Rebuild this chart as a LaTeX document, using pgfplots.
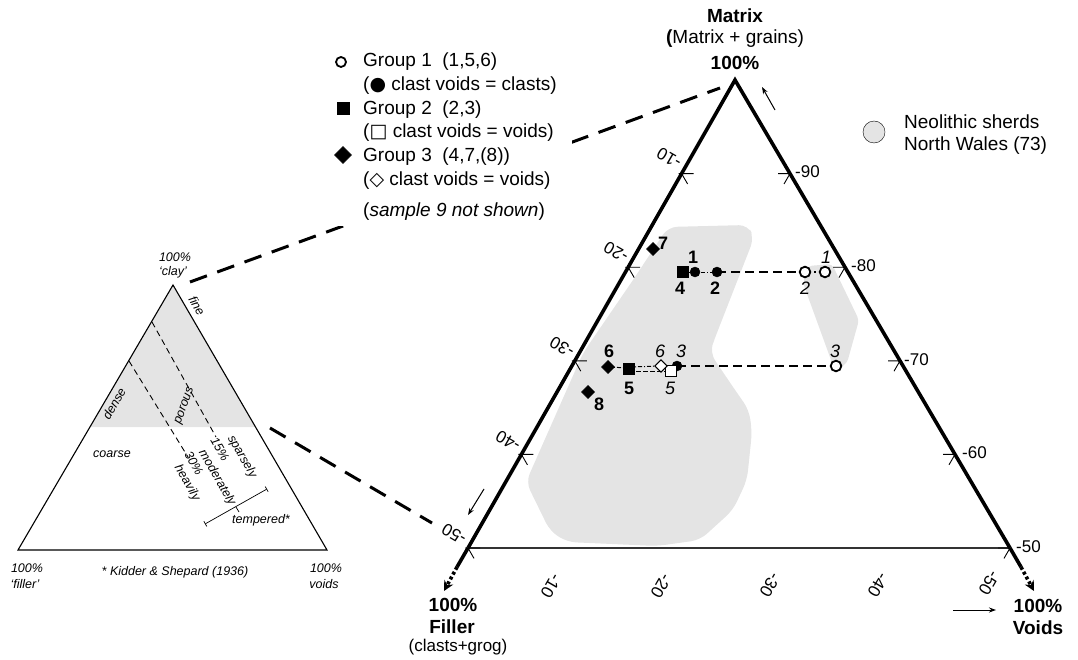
\documentclass[border=0pt]{standalone}
\usepackage{pgfplots}
\pgfplotsset{compat=1.18}
\usepackage{fontspec}
\setmainfont{Liberation Sans}
\newfontfamily\symfont{DejaVu Sans}
\usetikzlibrary{arrows.meta}
\definecolor{shade}{RGB}{228,228,228}
\newcommand\fA{\fontsize{19}{23}\selectfont}
\newcommand\fB{\fontsize{19}{23}\selectfont\bfseries}
\newcommand\fT{\fontsize{17}{20}\selectfont}
\newcommand\fS{\fontsize{12.5}{15}\selectfont\itshape}
\newcommand\fD{\fontsize{18}{20}\selectfont}

\begin{document}
\begin{tikzpicture}
\begin{axis}[name=ax, at={(0,0)}, anchor=south west,
  width=1078pt, height=660pt, scale only axis,
  xmin=0, xmax=1078, ymin=0, ymax=660, y dir=reverse,
  hide axis, clip=false]

% ---------- grey regions ----------
\addplot[fill=shade, draw=none, rounded corners=9pt] coordinates {
 (668,227) (748,225) (754,238) (713,343) (710,353) (733,387) (749,410)
 (752,432) (747,480) (733,510) (700,540) (657,546) (567,542) (550,531)
 (526,482) (583,353) (633,280)} -- cycle;
\addplot[fill=shade, draw=none, rounded corners=4pt] coordinates {
 (808,266) (832,264) (859,320) (847,363) (835,371) (803,283)} -- cycle;
% small triangle shading
\addplot[fill=shade, draw=none] coordinates {(173,285) (90,427) (256,427)} -- cycle;

% ---------- small triangle ----------
\addplot[black, line width=1.1pt] coordinates {(173,285) (18,550) (327,550)} -- cycle;
\addplot[black, line width=0.9pt, dash pattern=on 6pt off 4pt] coordinates {(152,322) (216,437)};
\addplot[black, line width=0.9pt, dash pattern=on 6pt off 4pt] coordinates {(129,361) (188,457)};
\addplot[black, line width=0.7pt, {Bar[width=6pt]}-{Bar[width=6pt]}] coordinates {(205,524) (267,489)};
\addplot[black, line width=0.7pt] coordinates {(236,507) (239,512)};

% ---------- dashed connectors ----------
\addplot[black, line width=3pt, dash pattern=on 18pt off 11pt] coordinates {(190,282) (720,88)};
\addplot[black, line width=3pt, dash pattern=on 18pt off 11pt] coordinates {(270,428) (432,523)};

% legend background
\addplot[fill=white, draw=none] coordinates {(328,44) (572,44) (572,226) (328,226)} -- cycle;

% ---------- big triangle ----------
\addplot[black!80, line width=1.3pt] coordinates {(468,548) (1010,548)};
\addplot[black, line width=3.6pt, line join=miter] coordinates {(468,548) (735,80) (1010,548)};
\addplot[black, line width=3.6pt] coordinates {(468,548) (457,567)};
\addplot[black, line width=3.6pt, dash pattern=on 3pt off 2.5pt, -{Stealth[length=10pt,width=10pt]}] coordinates {(457,567) (444,591)};
\addplot[black, line width=3.6pt] coordinates {(1010,548) (1021,567)};
\addplot[black, line width=3.6pt, dash pattern=on 3pt off 2.5pt, -{Stealth[length=10pt,width=10pt]}] coordinates {(1021,567) (1034,591)};

% ticks (right edge)
\addplot[black, line width=0.9pt, unbounded coords=jump] coordinates {
 (778,173.6) (790,173.6) (784,184) (nan,nan)
 (833,267.2) (845,267.2) (839,277.6) (nan,nan)
 (888,360.8) (900,360.8) (894,371.2) (nan,nan)
 (943,454.4) (955,454.4) (949,464.8) (nan,nan)
 (998,548) (1010,548) (1004,558.4)};
% ticks (left edge)
\addplot[black, line width=0.9pt, unbounded coords=jump] coordinates {
 (693.6,173.6) (678.6,173.6) (nan,nan) (681.6,173.6) (687.6,184) (nan,nan)
 (640.2,267.2) (625.2,267.2) (nan,nan) (628.2,267.2) (634.2,277.6) (nan,nan)
 (586.8,360.8) (571.8,360.8) (nan,nan) (574.8,360.8) (580.8,371.2) (nan,nan)
 (533.4,454.4) (518.4,454.4) (nan,nan) (521.4,454.4) (527.4,464.8) (nan,nan)
 (480,548) (465,548) (nan,nan) (468,548) (474,558.4)};

% small arrows
\addplot[black, line width=1pt, -{Stealth[length=7pt,width=5pt]}] coordinates {(775,110) (762,87)};
\addplot[black, line width=1pt, -{Stealth[length=7pt,width=5pt]}] coordinates {(484,489) (468,515)};
\addplot[black, line width=1pt, -{Stealth[length=7pt,width=5pt]}] coordinates {(953,610) (996,610)};

% ---------- connecting lines of the samples ----------
\addplot[black, line width=1pt, dash pattern=on 4pt off 2pt on 1pt off 2pt] coordinates {(683,272) (717,272)};
\addplot[black, line width=1.4pt, dash pattern=on 9pt off 5pt] coordinates {(717,272) (805,272)};
\addplot[black, line width=1.2pt, dash pattern=on 1.5pt off 3pt] coordinates {(805,272) (825,272)};
\addplot[black, line width=1pt, dash pattern=on 4pt off 2pt on 1pt off 2pt] coordinates {(608,367) (629,368)};
\addplot[black, line width=1pt, dash pattern=on 4pt off 2pt on 1pt off 2pt] coordinates {(629,367) (661,366)};
\addplot[black, line width=1pt, dash pattern=on 5pt off 2pt] coordinates {(629,371) (671,371)};
\addplot[black, line width=1pt] coordinates {(661,366) (677,366)};
\addplot[black, line width=1.4pt, dash pattern=on 9pt off 5pt] coordinates {(677,366) (836,366)};

% ---------- samples ----------
% filled circles (clast voids = clasts)
\addplot[only marks, mark=*, mark size=5pt, mark options={fill=black, draw=black}] coordinates {(695,272) (717,272) (677,366)};
% open circles (Group 1)
\addplot[only marks, mark=*, mark size=5.3pt, mark options={fill=white, draw=black, line width=1.8pt}] coordinates {(805,272) (825,272) (836,366)};
% filled squares (Group 2)
\addplot[only marks, mark=square*, mark size=5.5pt, mark options={fill=black, draw=black}] coordinates {(683,272) (629,369)};
% open square
\addplot[only marks, mark=square*, mark size=5.5pt, mark options={fill=white, draw=black, line width=1pt}] coordinates {(671,371)};
% filled diamonds (Group 3)
\addplot[only marks, mark=square*, mark size=4.6pt, mark options={fill=black, draw=black, rotate=45}] coordinates {(653,249) (608,367) (588,392)};
% open diamond
\addplot[only marks, mark=square*, mark size=4.3pt, mark options={fill=white, draw=black, line width=1pt, rotate=45}] coordinates {(661,366)};

% Neolithic legend disc
\addplot[only marks, mark=*, mark size=11pt, mark options={fill=shade, draw=none}] coordinates {(874,132)};
% legend marks
\addplot[only marks, mark=*, mark size=5pt, mark options={fill=white, draw=black, line width=1.8pt}] coordinates {(341,62)};
\addplot[only marks, mark=square*, mark size=6pt, mark options={fill=black, draw=black}] coordinates {(343,108)};
\addplot[only marks, mark=square*, mark size=6pt, mark options={fill=black, draw=black, rotate=45}] coordinates {(343,155)};

% ---------- sample labels ----------
\node[inner sep=0] at (663,243) {\fD\bfseries 7};
\node[inner sep=0] at (693,257) {\fD\bfseries 1};
\node[inner sep=0] at (680,288) {\fD\bfseries 4};
\node[inner sep=0] at (715,288) {\fD\bfseries 2};
\node[inner sep=0] at (805,288) {\fD\itshape 2};
\node[inner sep=0] at (826,257) {\fD\itshape 1};
\node[inner sep=0] at (609,351) {\fD\bfseries 6};
\node[inner sep=0] at (629,388) {\fD\bfseries 5};
\node[inner sep=0] at (660,351) {\fD\itshape 6};
\node[inner sep=0] at (681,351) {\fD\itshape 3};
\node[inner sep=0] at (670,388) {\fD\itshape 5};
\node[inner sep=0] at (835,351) {\fD\itshape 3};
\node[inner sep=0] at (599,404) {\fD\bfseries 8};

% ---------- tick labels ----------
\node[anchor=west, inner sep=0] at (795,172) {\fT -90};
\node[anchor=west, inner sep=0] at (851,266) {\fT -80};
\node[anchor=west, inner sep=0] at (904,360) {\fT -70};
\node[anchor=west, inner sep=0] at (962,453) {\fT -60};
\node[anchor=west, inner sep=0] at (1016,547) {\fT -50};
\node[inner sep=0, rotate=150] at (669,158) {\fT -10};
\node[inner sep=0, rotate=150] at (616,252) {\fT -20};
\node[inner sep=0, rotate=150] at (562,347) {\fT -30};
\node[inner sep=0, rotate=150] at (508,441) {\fT -40};
\node[inner sep=0, rotate=150] at (454,534) {\fT -50};
\node[inner sep=0, rotate=-120] at (551,586) {\fT -10};
\node[inner sep=0, rotate=-120] at (661,586) {\fT -20};
\node[inner sep=0, rotate=-120] at (770,585) {\fT -30};
\node[inner sep=0, rotate=-120] at (878,585) {\fT -40};
\node[inner sep=0, rotate=-120] at (989,583) {\fT -50};

% ---------- corner titles ----------
\node[inner sep=0] at (735,16) {\fB Matrix};
\node[inner sep=0] at (735,39) {\fA\textbf{(}Matrix + grains)};
\node[inner sep=0] at (735,63) {\fB 100\%};
\node[inner sep=0] at (453,605) {\fB 100\%};
\node[inner sep=0] at (452,627) {\fB Filler};
\node[inner sep=0] at (458,647) {\fT (clasts+grog)};
\node[inner sep=0] at (1038,606) {\fB 100\%};
\node[inner sep=0] at (1038,628) {\fB Voids};

% ---------- legends ----------
\node[anchor=west, inner sep=0] at (363,62) {\fA Group 1\ \ (1,5,6)};
\node[anchor=west, inner sep=0] at (363,86) {\fA ({\symfont ●} clast voids = clasts)};
\node[anchor=west, inner sep=0] at (363,110) {\fA Group 2\ \ (2,3)};
\node[anchor=west, inner sep=0] at (363,133) {\fA ({\symfont □} clast voids = voids)};
\node[anchor=west, inner sep=0] at (363,157) {\fA Group 3\ \ (4,7,(8))};
\node[anchor=west, inner sep=0] at (363,181) {\fA ({\symfont ◇} clast voids = voids)};
\node[anchor=west, inner sep=0] at (363,212) {\fA (\textit{sample 9 not shown})};
\node[anchor=west, inner sep=0] at (904,122) {\fA Neolithic sherds};
\node[anchor=west, inner sep=0] at (904,146) {\fA North Wales (73)};

% ---------- small triangle labels ----------
\node[inner sep=0] at (175,257) {\fS 100\%};
\node[inner sep=0] at (173,272) {\fS ‘clay’};
\node[inner sep=0, rotate=-60] at (197,306) {\fS fine};
\node[inner sep=0, rotate=60] at (114,404) {\fS dense};
\node[inner sep=0, rotate=70] at (185,406) {\fS porous};
\node[inner sep=0] at (112,454) {\fS coarse};
\node[inner sep=0, rotate=-60] at (242,457) {\fS sparsely};
\node[inner sep=0, rotate=-60] at (220,449) {\fS 15\%};
\node[inner sep=0, rotate=-60] at (217,478) {\fS moderately};
\node[inner sep=0, rotate=-60] at (194,463) {\fS 30\%};
\node[inner sep=0, rotate=-60] at (187,483) {\fS heavily};
\node[inner sep=0] at (261,520) {\fS tempered*};
\node[inner sep=0] at (175,572) {\fS * Kidder \& Shepard (1936)};
\node[inner sep=0] at (27,568) {\fS 100\%};
\node[inner sep=0] at (25,584) {\fS ‘filler’};
\node[inner sep=0] at (326,568) {\fS 100\%};
\node[inner sep=0] at (324,584) {\fS voids};
\end{axis}
\pgfresetboundingbox
\useasboundingbox (ax.south west) rectangle (ax.north east);
\end{tikzpicture}
\end{document}
